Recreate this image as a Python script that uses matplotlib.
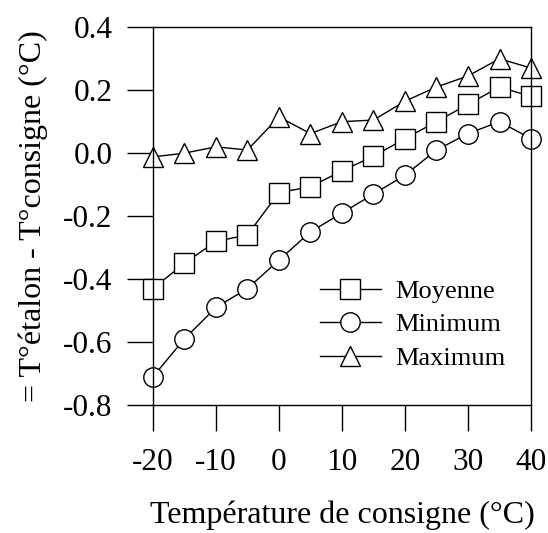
import matplotlib
matplotlib.use('Agg')
import matplotlib.pyplot as plt

plt.rcParams['font.family'] = ['Liberation Serif', 'DejaVu Serif']

# données
temp_consigne = [-20, -15, -10, -5, 0, 5, 10, 15, 20, 25, 30, 35, 40]
moyenne = [-0.43, -0.35, -0.28, -0.26, -0.125, -0.107, -0.056, -0.01, 0.046, 0.10, 0.155, 0.21, 0.18]
minimum = [-0.71, -0.59, -0.49, -0.43, -0.34, -0.25, -0.19, -0.13, -0.07, 0.01, 0.062, 0.10, 0.046]
maximum = [-0.012, 0.0, 0.02, 0.01, 0.115, 0.062, 0.10, 0.105, 0.165, 0.21, 0.245, 0.30, 0.27]

xticks = [-20, -10, 0, 10, 20, 30, 40]
yticks = [-0.8, -0.6, -0.4, -0.2, 0.0, 0.2, 0.4]
ytick_labels = ['-0.8', '-0.6', '-0.4', '-0.2', '0.0', '0.2', '0.4']

fig = plt.figure(figsize=(5.48, 5.33), dpi=100)
ax = fig.add_axes([0.279, 0.240, 0.690, 0.709])

style = dict(color='black', lw=1, markerfacecolor='white', markeredgecolor='black',
             markeredgewidth=1, markersize=14)
ax.plot(temp_consigne, moyenne, marker='s', label='Moyenne', **style)
ax.plot(temp_consigne, minimum, marker='o', label='Minimum', **style)
ax.plot(temp_consigne, maximum, marker='^', label='Maximum', **style)

ax.set_xlim(-20, 40)
ax.set_ylim(-0.8, 0.4)
ax.set_xticks(xticks)
ax.set_xticklabels([str(t) for t in xticks])
ax.set_yticks(yticks)
ax.set_yticklabels(ytick_labels)
ax.tick_params(direction='out', length=19, width=1, labelsize=22.5, color='black')
ax.tick_params(axis='x', pad=12)
ax.tick_params(axis='y', pad=10)
for s in ax.spines.values():
    s.set_linewidth(1)

ax.set_xlabel('Température de consigne (°C)', fontsize=23, labelpad=17)
ax.set_ylabel('= T°étalon - T°consigne (°C)', fontsize=23, labelpad=11)

leg = ax.legend(loc='lower right', bbox_to_anchor=(0.995, 0.03), frameon=False, fontsize=19,
                handlelength=2.3, handletextpad=0.55, labelspacing=0.38)
for l in ax.get_lines():
    l.set_clip_on(False)

fig.savefig('out.png', dpi=100)
